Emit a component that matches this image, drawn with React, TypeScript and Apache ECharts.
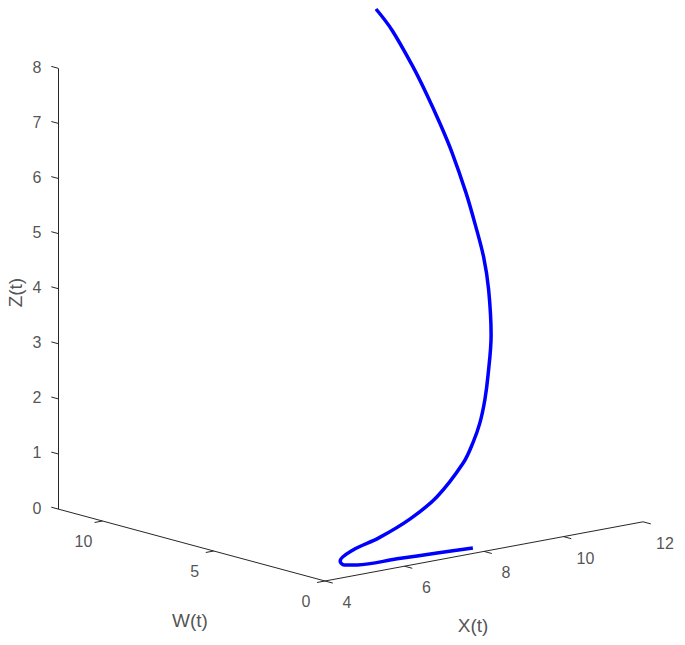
import React, { useEffect, useRef } from "react";
import * as echarts from "echarts";

// 3D data of the trajectory (X(t), W(t), Z(t))
const curveX = [7.72, 6.85, 5.87, 4.91, 4.62, 4.56, 4.94, 5.69, 6.61, 7.49, 8.4, 8.84, 9.21, 9.56, 9.81, 10.25, 10.58, 10.79, 10.96, 11.13, 11.34, 11.48, 11.58, 11.7, 11.84, 12.0];
const curveW = [0, 0.05, 0.1, 0.18, 0.25, 0.32, 0.42, 0.6, 0.85, 1.2, 1.65, 2.0, 2.35, 2.75, 3.05, 3.7, 4.4, 5.0, 5.7, 6.4, 7.4, 8.2, 9.0, 9.8, 11.0, 12.0];
const curveZ = [0.1, 0.12, 0.14, 0.15, 0.18, 0.25, 0.39, 0.49, 0.68, 0.93, 1.37, 1.64, 1.91, 2.24, 2.63, 3.22, 3.92, 4.42, 4.94, 5.39, 5.98, 6.41, 6.86, 7.23, 7.75, 8.0];

// axis limits and ticks
const xLim = [4, 12];
const wLim = [0, 12];
const zLim = [0, 8];
const xTicks = [4, 6, 8, 10, 12];
const wTicks = [0, 5, 10];
const zTicks = [0, 1, 2, 3, 4, 5, 6, 7, 8];
const xTitle = "X(t)";
const wTitle = "W(t)";
const zTitle = "Z(t)";

// orthographic view (MATLAB-like camera)
const VIEW = { ox: 325, oy: 581, xdx: 39.75, xdy: -7.4, wdx: -22.25, wdy: -6.0, zdy: -55.1 };
function proj(x: number, w: number, z: number): number[] {
  const a = x - xLim[0];
  return [VIEW.ox + VIEW.xdx * a + VIEW.wdx * w, VIEW.oy + VIEW.xdy * a + VIEW.wdy * w + VIEW.zdy * z];
}

const TEXT = "#262626";
const FONT = "'Liberation Sans', Arial, sans-serif";

export default function App() {
  const ref = useRef<HTMLDivElement>(null);
  useEffect(() => {
    if (!ref.current) return;
    const chart = echarts.init(ref.current, undefined, { renderer: "svg" });

    const segs: any[] = [];
    // axis lines
    segs.push({ coords: [proj(xLim[0], wLim[1], zLim[0]), proj(xLim[0], wLim[1], zLim[1])] });
    segs.push({ coords: [proj(xLim[0], wLim[1], zLim[0]), proj(xLim[0], wLim[0], zLim[0])] });
    segs.push({ coords: [proj(xLim[0], wLim[0], zLim[0]), proj(xLim[1], wLim[0], zLim[0])] });
    // ticks (pointing outward)
    zTicks.forEach((z) => segs.push({ coords: [proj(xLim[0], wLim[1], z), proj(xLim[0], wLim[1] + 0.3, z)] }));
    wTicks.forEach((w) => segs.push({ coords: [proj(xLim[0], w, zLim[0]), proj(xLim[0] - 0.2, w, zLim[0])] }));
    xTicks.forEach((x) => segs.push({ coords: [proj(x, wLim[0], zLim[0]), proj(x, wLim[0] - 0.35, zLim[0])] }));

    const lab = (p: number[], name: string, off: number[], size: number, rotate = 0) => ({
      value: p,
      name,
      label: {
        show: true,
        formatter: "{b}",
        position: "inside",
        offset: off,
        rotate,
        color: TEXT,
        fontSize: size,
        fontFamily: FONT,
        align: "center",
        verticalAlign: "middle",
      },
    });
    const labels: any[] = [];
    zTicks.forEach((z) => labels.push(lab(proj(xLim[0], wLim[1], z), String(z), [-21, -1], 16)));
    wTicks.forEach((w) => labels.push(lab(proj(xLim[0], w, zLim[0]), String(w), [-19, 20], 16)));
    xTicks.forEach((x) => labels.push(lab(proj(x, wLim[0], zLim[0]), String(x), [22, 21.5], 16)));
    // rotated label: offset is applied in the rotated frame
    labels.push(lab(proj(xLim[0], wLim[1], 4), zTitle, [-4, -43], 19, 90));
    labels.push(lab(proj(xLim[0], 6, zLim[0]), wTitle, [-1.5, 75], 19));
    labels.push(lab(proj(8, wLim[0], zLim[0]), xTitle, [-11, 74], 19));

    const curve = curveX.map((x, i) => proj(x, curveW[i], curveZ[i]));

    chart.setOption({
      animation: false,
      grid: { left: 0, right: 0, top: 0, bottom: 0 },
      xAxis: { type: "value", min: 0, max: 685, show: false },
      yAxis: { type: "value", min: 0, max: 645, inverse: true, show: false },
      series: [
        {
          type: "lines",
          coordinateSystem: "cartesian2d",
          silent: true,
          lineStyle: { color: TEXT, width: 1, opacity: 1 },
          data: segs,
          z: 1,
        },
        {
          type: "line",
          data: curve,
          smooth: 0.35,
          showSymbol: false,
          silent: true,
          lineStyle: { color: "#0000ff", width: 3.5 },
          z: 3,
        },
        {
          type: "scatter",
          symbolSize: 0,
          silent: true,
          data: labels,
          z: 2,
        },
      ],
    });
    return () => chart.dispose();
  }, []);
  return <div ref={ref} style={{ position: "fixed", left: 0, top: 0, width: 685, height: 645, background: "#fff" }} />;
}
